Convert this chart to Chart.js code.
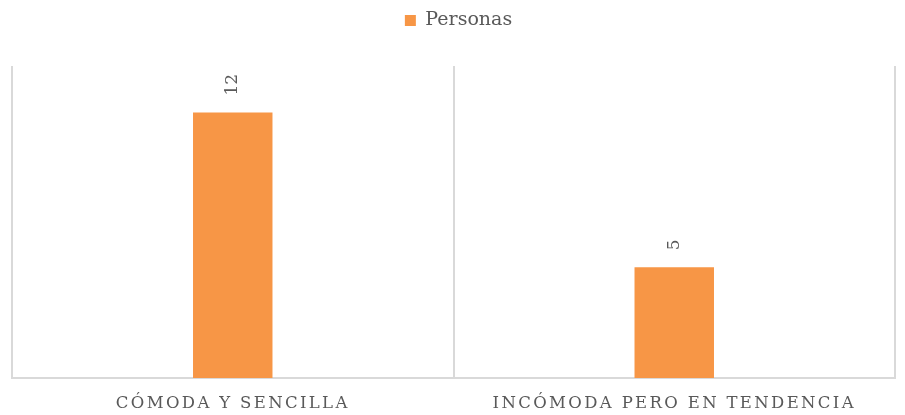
<!DOCTYPE html>
<html lang="es">
<head>
<meta charset="utf-8">
<title>Personas</title>
<script src="https://cdn.jsdelivr.net/npm/chart.js@4/dist/chart.umd.min.js"></script>
<style>
  html, body { margin: 0; padding: 0; background: #fff; }
  #wrap { width: 905px; height: 415px; }
</style>
</head>
<body>
<div id="wrap"><canvas id="grafico"></canvas></div>
<script>
const categorias = ["CÓMODA Y SENCILLA", "INCÓMODA PERO EN TENDENCIA"];
const personas = [12, 5];
const nombreSerie = "Personas";

const fuente = "'DejaVu Serif', 'Liberation Serif', serif";
const gris = "#595959";
const naranja = "#F79646";
const linea = "#D9D9D9";

// legend keeps its text at the top, with a fixed band under it
const alturaLeyenda = {
    id: 'alturaLeyenda',
    beforeInit(chart) {
        const leyenda = chart.legend;
        if (!leyenda || leyenda._parcheado) return;
        const fitOriginal = leyenda.fit;
        leyenda.fit = function () {
            fitOriginal.call(this);
            if (this.isHorizontal()) this.height = 66;
        };
        leyenda._parcheado = true;
    },
    afterLayout(chart) {
        // centre the legend on the whole canvas, not on the padded box
        if (chart.legend) chart.legend.left += 10;
    }
};

// spaced capitals on the category labels
const espaciado = {
    id: 'espaciado',
    beforeDraw(chart) {
        const eje = chart.scales.x;
        if (!eje || eje._espaciado) return;
        const original = eje.drawLabels;
        eje.drawLabels = function (area) {
            const ctx = this.ctx;
            ctx.save();
            ctx.letterSpacing = '2.35px';
            original.call(this, area);
            ctx.restore();
        };
        eje._espaciado = true;
    }
};

// vertical value labels above each bar
const etiquetas = {
    id: 'etiquetas',
    afterDatasetsDraw(chart) {
        const ctx = chart.ctx;
        const meta = chart.getDatasetMeta(0);
        meta.data.forEach((barra, i) => {
            ctx.save();
            ctx.translate(barra.x, barra.y - 17);
            ctx.rotate(-Math.PI / 2);
            ctx.font = "17px " + fuente;
            ctx.fillStyle = gris;
            ctx.textAlign = 'left';
            ctx.textBaseline = 'middle';
            ctx.fillText(String(personas[i]), 0, 0);
            ctx.restore();
        });
    }
};

new Chart(document.getElementById('grafico'), {
    type: 'bar',
    data: {
        labels: categorias,
        datasets: [{
            label: nombreSerie,
            data: personas,
            backgroundColor: naranja,
            borderWidth: 0,
            barPercentage: 0.18,
            categoryPercentage: 1
        }]
    },
    options: {
        responsive: true,
        maintainAspectRatio: false,
        animation: false,
        layout: { padding: { left: 12, right: 10, top: 0, bottom: 0 } },
        plugins: {
            legend: {
                display: true,
                position: 'top',
                labels: {
                    boxWidth: 11,
                    boxHeight: 11,
                    padding: 11,
                    color: gris,
                    font: { family: fuente, size: 19 }
                }
            },
            tooltip: { enabled: false }
        },
        scales: {
            x: {
                afterFit(eje) { eje.height = 37; },
                grid: {
                    display: true,
                    offset: true,
                    color: linea,
                    lineWidth: 2,
                    drawTicks: false
                },
                border: { display: true, color: linea, width: 2 },
                ticks: {
                    color: gris,
                    padding: 16,
                    maxRotation: 0,
                    font: { family: fuente, size: 16.5 }
                }
            },
            y: {
                display: false,
                min: 0,
                max: 14.1
            }
        }
    },
    plugins: [alturaLeyenda, espaciado, etiquetas]
});
</script>
</body>
</html>
